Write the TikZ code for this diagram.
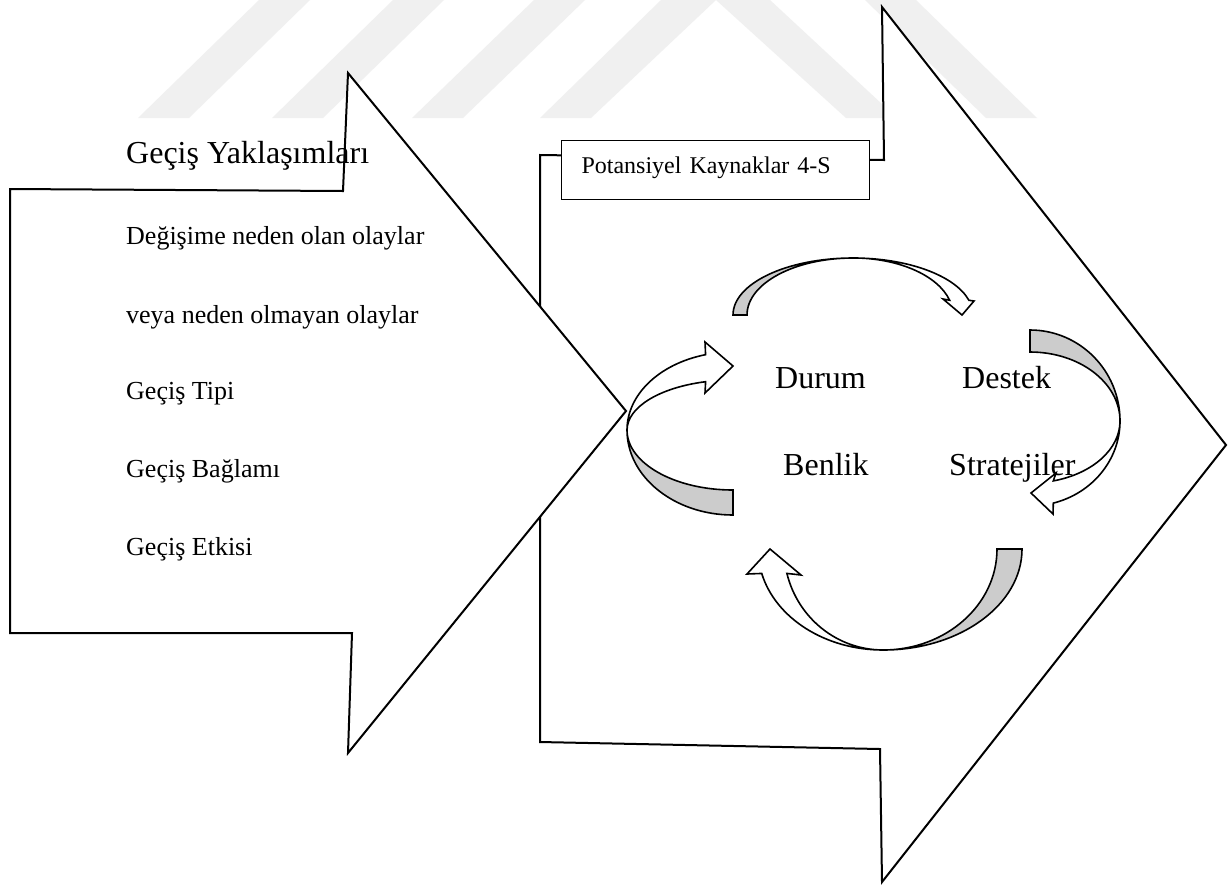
\documentclass[tikz,border=0pt]{standalone}
\usepackage{fontspec}
\setmainfont{Liberation Serif}
\begin{document}
\begin{tikzpicture}[x=1pt, y=-1pt,
  wm/.style={fill=gray!12},
  blk/.style={draw, line width=2pt, fill=white, line join=miter},
  back/.style={draw, line width=1.6pt, fill=gray!40},
  front/.style={draw, line width=1.6pt, fill=white},
  big/.style={inner sep=0, anchor=base west, font=\fontsize{32}{38}\selectfont},
  item/.style={inner sep=0, anchor=base west, font=\fontsize{26}{31}\selectfont}
]
\fill[white] (0,0) rectangle (1230,884);
\useasboundingbox (0,0) rectangle (1230,884);

% watermark
\fill[wm] (138,118) -- (259,0) -- (310,0) -- (189,118) -- cycle;
\fill[wm] (272,118) -- (393,0) -- (444,0) -- (323,118) -- cycle;
\fill[wm] (412,118) -- (534,0) -- (585,0) -- (463,118) -- cycle;
\fill[wm] (540,118) -- (661,0) -- (770,0) -- (897,118) -- (846,118) -- (716,0) -- (591,118) -- cycle;
\fill[wm] (986,118) -- (865,0) -- (916,0) -- (1037,118) -- cycle;

% block arrows
\draw[blk] (540,155) -- (884,160) -- (882,7) -- (1226,445) -- (882,882) -- (880,749) -- (540,742) -- cycle;
\node[draw, line width=1pt, fill=white, anchor=north west, minimum height=59pt,
  text width=268pt, inner xsep=20pt, inner ysep=0pt, text height=16pt, text depth=10pt,
  align=left, font=\fontsize{24}{29}\selectfont] (kay) at (561,140) {Potansiyel Kaynaklar 4-S};
\draw[blk] (10,189) -- (343,191) -- (348,73) -- (626,411) -- (348,753) -- (352,633) -- (10,633) -- cycle;

\node[big] (gy) at (126,163) {Geçiş Yaklaşımları};
\node[item] (t1) at (126,244) {Değişime neden olan olaylar};
\node[item] (t2) at (126,323) {veya neden olmayan olaylar};
\node[item] (t3) at (126,399) {Geçiş Tipi};
\node[item] (t4) at (126,477) {Geçiş Bağlamı};
\node[item] (t5) at (126,555) {Geçiş Etkisi};

% curved arrows
% top
\draw[back] (733,315) arc[start angle=180, end angle=270, x radius=120, y radius=57]
  arc[start angle=270, end angle=180, x radius=106, y radius=57] -- cycle;
\draw[front] (853,258) arc[start angle=270, end angle=345, x radius=120, y radius=57]
  -- (974,301) -- (962,315) -- (943,299) -- (949.6,300.2)
  arc[start angle=345, end angle=270, x radius=100, y radius=57] -- cycle;
% right
\draw[back] (1030,330) arc[start angle=270, end angle=360, x radius=90, y radius=91]
  arc[start angle=0, end angle=-90, x radius=90, y radius=69] -- cycle;
\draw[front] (1120,421) arc[start angle=0, end angle=75, x radius=90, y radius=85]
  -- (1053,514) -- (1031,493) -- (1056,473) -- (1053.3,480.9)
  arc[start angle=75, end angle=0, x radius=90, y radius=62] -- cycle;
% bottom
\draw[back] (1022,549) arc[start angle=0, end angle=90, x radius=139, y radius=101]
  arc[start angle=90, end angle=0, x radius=114, y radius=101] -- cycle;
\draw[front] (883,650) arc[start angle=90, end angle=166, x radius=125, y radius=101]
  -- (747,574) -- (770,549) -- (801,575) -- (786.9,573.4)
  arc[start angle=166, end angle=90, x radius=99, y radius=101] -- cycle;
% left
\draw[back] (733,515) arc[start angle=90, end angle=180, x radius=106, y radius=85]
  arc[start angle=180, end angle=90, x radius=106, y radius=60] -- cycle;
\draw[front] (627,430) arc[start angle=180, end angle=255, x radius=106, y radius=78]
  -- (705,342) -- (733,366) -- (705,393) -- (705.6,381.7)
  arc[start angle=255, end angle=180, x radius=106, y radius=50] -- cycle;

\node[big] (dur) at (775,388) {Durum};
\node[big] (des) at (962,388) {Destek};
\node[big] (ben) at (783,475) {Benlik};
\node[big] (str) at (949,475) {Stratejiler};
\end{tikzpicture}
\end{document}
